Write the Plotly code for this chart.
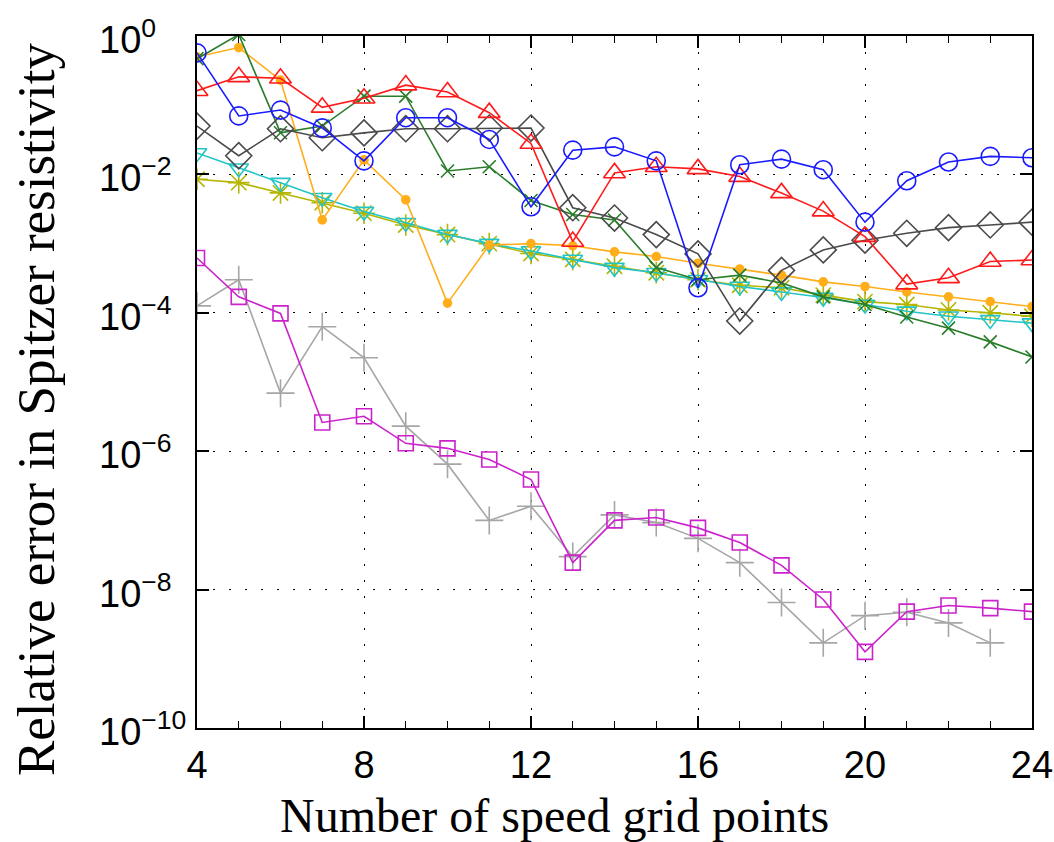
import plotly.graph_objects as go

# Number of speed grid points
n_points = list(range(4, 25))

# Relative error in Spitzer resistivity for each discretization scheme
err_blue = [0.57, 0.07, 0.085, 0.047, 0.0157, 0.066, 0.066, 0.032, 0.0034, 0.0224,
            0.025, 0.0157, 0.00023, 0.0138, 0.0166, 0.0117, 0.00204, 0.0081, 0.0151, 0.0182, 0.0174]
err_red = [0.162, 0.257, 0.245, 0.093, 0.126, 0.195, 0.155, 0.078, 0.028, 0.00107,
           0.0105, 0.0129, 0.012, 0.0093, 0.0054, 0.00295, 0.00126, 0.00026, 0.00032, 0.00055, 0.00058]
err_diamond = [0.050, 0.0186, 0.0457, 0.0339, 0.0398, 0.0457, 0.0457, 0.0468, 0.0468, 0.0033,
               0.00234, 0.00135, 0.00071, 0.000076, 0.00041, 0.00081, 0.00112, 0.00141, 0.0017, 0.00186, 0.00204]
err_green = [0.47, 1.05, 0.040, 0.050, 0.135, 0.135, 0.0112, 0.0129, 0.0042, 0.00263,
             0.00219, 0.00045, 0.0003, 0.00035, 0.00027, 0.00017, 0.000132, 0.000087, 0.00006, 0.000038, 0.000023]
err_orange = [0.50, 0.68, 0.23, 0.0022, 0.0162, 0.0043, 0.000138, 0.00095, 0.001, 0.00093,
              0.00076, 0.00065, 0.00052, 0.00043, 0.00035, 0.00028, 0.00024, 0.0002, 0.00017, 0.000145, 0.000123]
err_cyan = [0.0204, 0.0123, 0.0076, 0.0046, 0.0029, 0.002, 0.00135, 0.001, 0.00078, 0.00059,
            0.00045, 0.00038, 0.0003, 0.00024, 0.0002, 0.000166, 0.000132, 0.000105, 0.000089, 0.000079, 0.000071]
err_olive = [0.0085, 0.0076, 0.0054, 0.0039, 0.00275, 0.00186, 0.00135, 0.001, 0.00072, 0.00059,
             0.00047, 0.00038, 0.0003, 0.00025, 0.00023, 0.00018, 0.000145, 0.000132, 0.00011, 0.0001, 0.000089]
err_magenta = [0.00062, 0.00017, 0.000098, 0.0000026, 0.0000032, 0.0000013, 0.0000011, 0.00000076, 0.00000039, 0.0000000245,
               0.0000001, 0.00000011, 0.000000078, 0.000000048, 0.0000000224, 0.0000000072, 0.00000000126, 0.0000000048, 0.0000000059, 0.0000000054, 0.0000000048]
err_gray = [0.000126, 0.0003, 0.0000069, 0.000063, 0.0000224, 0.0000023, 0.00000065, 0.0000001, 0.00000016, 0.00000003,
            0.00000012, 0.000000093, 0.000000055, 0.0000000245, 0.0000000065, 0.0000000017, 0.0000000042, 0.0000000047, 0.0000000033, 0.0000000017, None]

# Tick positions and labels
x_tick_vals = [4, 8, 12, 16, 20, 24]
y_tick_exponents = [0, -2, -4, -6, -8, -10]
y_tick_vals = [10.0 ** e for e in y_tick_exponents]
y_tick_text = ["10<sup>%s</sup>" % str(e).replace("-", "\u2212") for e in y_tick_exponents]

x_title = "Number of speed grid points"
y_title = "Relative error in Spitzer resistivity"

series = [
    # (values, colour, marker symbol, marker size)
    (err_gray, "#a6a6a6", "cross-thin-open", 20),
    (err_magenta, "#cc22cc", "square-open", 15),
    (err_olive, "#b5b500", "asterisk-open", 18),
    (err_cyan, "#22c4c8", "triangle-down-open", 17),
    (err_orange, "#ffae1a", "circle", 8),
    (err_green, "#2a7d2a", "x-thin-open", 13),
    (err_diamond, "#4a4a4a", "diamond-open", 20),
    (err_red, "#ff1a1a", "triangle-up-open", 19),
    (err_blue, "#1a1aff", "circle-open", 18),
]

fig = go.Figure()
for vals, color, symbol, size in series:
    fig.add_trace(go.Scatter(
        x=n_points, y=vals, mode="lines+markers",
        line=dict(color=color, width=1.6),
        marker=dict(symbol=symbol, size=size, color=color,
                    line=dict(color=color, width=1.6)),
        showlegend=False,
    ))

tick_font = dict(family="Liberation Sans Narrow, Liberation Sans, Arial", size=38, color="black")
serif = "Liberation Serif, Times New Roman, serif"

# Decade labels on the y axis: the mantissa "10" is left-aligned in a fixed column
for exp_val, label in zip(y_tick_exponents, y_tick_text):
    fig.add_annotation(
        x=0, xref="paper", xanchor="left", xshift=-100,
        y=exp_val, yref="y", yanchor="middle", yshift=-1,
        text=label, showarrow=False, font=tick_font,
    )

# Axis titles
fig.add_annotation(
    x=0.4287, xref="paper", xanchor="center",
    y=0, yref="paper", yanchor="middle", yshift=-87,
    text=x_title, showarrow=False,
    font=dict(family=serif, size=48, color="black"),
)
fig.add_annotation(
    x=0, xref="paper", xanchor="center", xshift=-161,
    y=0.4595, yref="paper", yanchor="middle",
    text=y_title, textangle=-90, showarrow=False,
    font=dict(family=serif, size=53, color="black"),
)

fig.update_layout(
    width=1054, height=842,
    margin=dict(l=197, r=22, t=36, b=114),
    paper_bgcolor="white", plot_bgcolor="white",
    xaxis=dict(
        range=[4, 24], tickvals=x_tick_vals, ticks="inside", ticklen=12,
        tickwidth=1.5, tickcolor="black", automargin=False, ticklabeloverflow="allow",
        minor=dict(dtick=1, ticks="inside", ticklen=7, tickwidth=1.2, tickcolor="black", showgrid=False),
        showline=True, linecolor="black", linewidth=2, mirror="allticks",
        showgrid=True, gridcolor="black", gridwidth=1.3, griddash="2px,14px",
        zeroline=False, tickfont=tick_font, ticklabelstandoff=2,
    ),
    yaxis=dict(
        type="log", range=[-10, 0], tickvals=y_tick_vals, showticklabels=False,
        ticks="inside", ticklen=12, tickwidth=1.8, tickcolor="black",
        automargin=False,
        showline=True, linecolor="black", linewidth=2, mirror="allticks",
        showgrid=True, gridcolor="black", gridwidth=1.3, griddash="2px,14px",
        zeroline=False,
    ),
)

fig.write_html("out.html")
